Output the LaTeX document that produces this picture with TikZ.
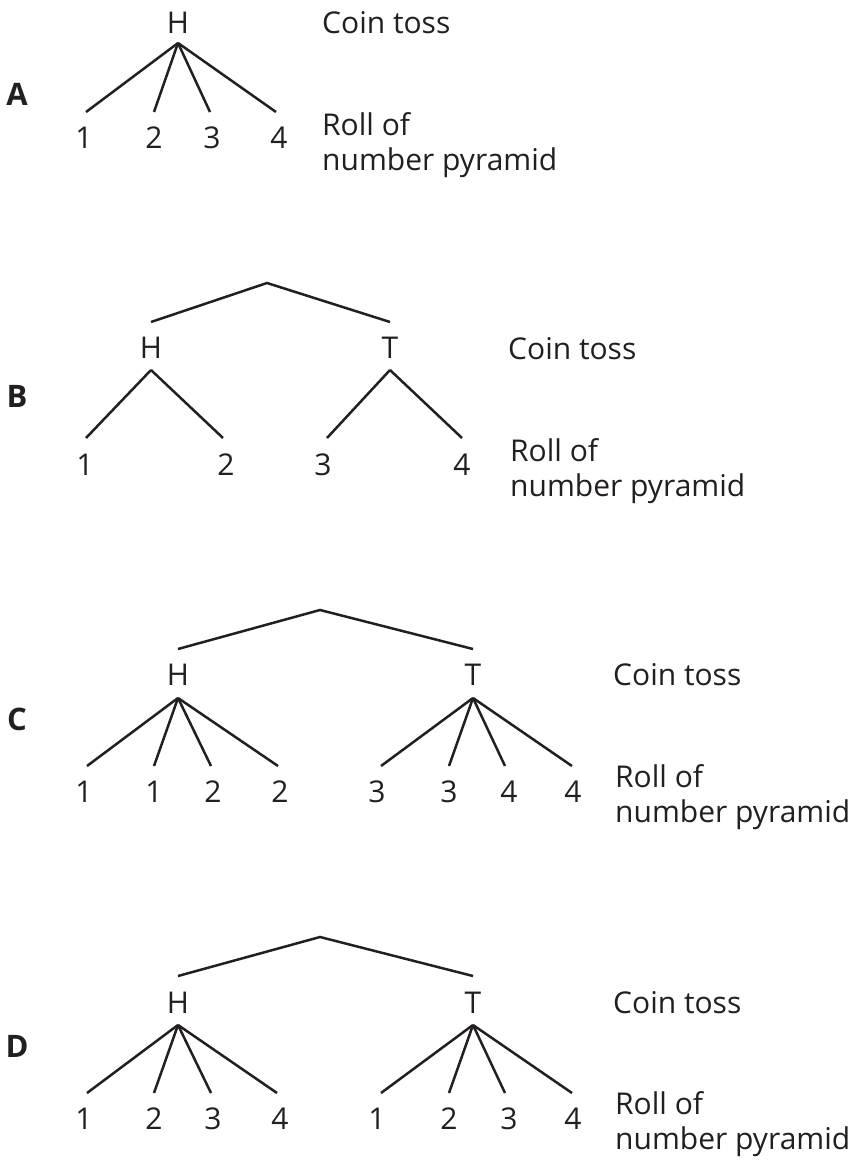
\documentclass[tikz,border=0pt]{standalone}
\usepackage{fontspec}
\setmainfont{Open Sans}
\definecolor{ink}{RGB}{35,31,32}
\begin{document}
\begin{tikzpicture}[x=1pt,y=-1pt,
  lbl/.style={font=\fontsize{30}{35}\selectfont, inner sep=0pt, text=ink},
  tag/.style={font=\fontsize{31}{35}\selectfont\bfseries, inner sep=0pt, text=ink},
  side/.style={lbl, anchor=west, align=left},
  br/.style={line width=2.5pt, draw=ink}]
\useasboundingbox (0,0) rectangle (866,1164);
% ---------- A ----------
\node[tag] (tA) at (17,94) {A};
\node[lbl] (aH) at (178,23) {H};
\node[side] (aC) at (322,23) {Coin toss};
\node[side] (aR) at (322,145) {Roll of\\number pyramid};
\node[lbl] (a1) at (84,138) {1};
\node[lbl] (a2) at (154,138) {2};
\node[lbl] (a3) at (212,138) {3};
\node[lbl] (a4) at (279,138) {4};
\foreach \n/\dx in {a1/2,a2/0,a3/-2,a4/-3}
  \draw[br] ([yshift=-20pt]aH.center) -- ([yshift=26pt,xshift=\dx pt]\n.center);
% ---------- B ----------
\node[tag] (tB) at (17,396) {B};
\coordinate (bR) at (267,283);
\node[lbl] (bH) at (151,348) {H};
\node[lbl] (bT) at (390,348) {T};
\node[side] (bC) at (508,349) {Coin toss};
\node[side] (bRo) at (510,471) {Roll of\\number pyramid};
\node[lbl] (b1) at (85,465) {1};
\node[lbl] (b2) at (226,465) {2};
\node[lbl] (b3) at (323,465) {3};
\node[lbl] (b4) at (462,465) {4};
\draw[br] ([yshift=26pt]bH.center) -- (bR) -- ([yshift=26pt]bT.center);
\draw[br] ([yshift=-22pt]bH.center) -- ([yshift=27pt,xshift=1pt]b1.center);
\draw[br] ([yshift=-22pt]bH.center) -- ([yshift=27pt,xshift=-3pt]b2.center);
\draw[br] ([yshift=-22pt]bT.center) -- ([yshift=27pt,xshift=4pt]b3.center);
\draw[br] ([yshift=-22pt]bT.center) -- ([yshift=27pt]b4.center);
% ---------- C ----------
\node[tag] (tC) at (17,719) {C};
\coordinate (cR) at (320,610);
\node[lbl] (cH) at (178,675) {H};
\node[lbl] (cT) at (473,675) {T};
\node[side] (cC) at (613,675) {Coin toss};
\node[side] (cRo) at (615,797) {Roll of\\number pyramid};
\node[lbl] (c1) at (84,792) {1};
\node[lbl] (c2) at (154,792) {1};
\node[lbl] (c3) at (213,792) {2};
\node[lbl] (c4) at (280,792) {2};
\node[lbl] (c5) at (377,792) {3};
\node[lbl] (c6) at (449,792) {3};
\node[lbl] (c7) at (509,792) {4};
\node[lbl] (c8) at (573,792) {4};
\draw[br] ([yshift=26pt]cH.center) -- (cR) -- ([yshift=26pt]cT.center);
\foreach \n/\dx in {c1/3,c2/0,c3/-2,c4/-2}
  \draw[br] ([yshift=-23pt]cH.center) -- ([yshift=26pt,xshift=\dx pt]\n.center);
\foreach \n/\dx in {c5/4,c6/0,c7/-4,c8/-1}
  \draw[br] ([yshift=-23pt]cT.center) -- ([yshift=26pt,xshift=\dx pt]\n.center);
% ---------- D ----------
\node[tag] (tD) at (17,1046) {D};
\coordinate (dR) at (320,937);
\node[lbl] (dH) at (178,1003) {H};
\node[lbl] (dT) at (473,1003) {T};
\node[side] (dC) at (613,1003) {Coin toss};
\node[side] (dRo) at (615,1124) {Roll of\\number pyramid};
\node[lbl] (d1) at (84,1119) {1};
\node[lbl] (d2) at (154,1119) {2};
\node[lbl] (d3) at (213,1119) {3};
\node[lbl] (d4) at (280,1119) {4};
\node[lbl] (d5) at (377,1119) {1};
\node[lbl] (d6) at (449,1119) {2};
\node[lbl] (d7) at (509,1119) {3};
\node[lbl] (d8) at (573,1119) {4};
\draw[br] ([yshift=27pt]dH.center) -- (dR) -- ([yshift=27pt]dT.center);
\foreach \n/\dx in {d1/3,d2/0,d3/-2,d4/-3}
  \draw[br] ([yshift=-22pt]dH.center) -- ([yshift=26pt,xshift=\dx pt]\n.center);
\foreach \n/\dx in {d5/4,d6/0,d7/-4,d8/-1}
  \draw[br] ([yshift=-22pt]dT.center) -- ([yshift=26pt,xshift=\dx pt]\n.center);
\end{tikzpicture}
\end{document}
